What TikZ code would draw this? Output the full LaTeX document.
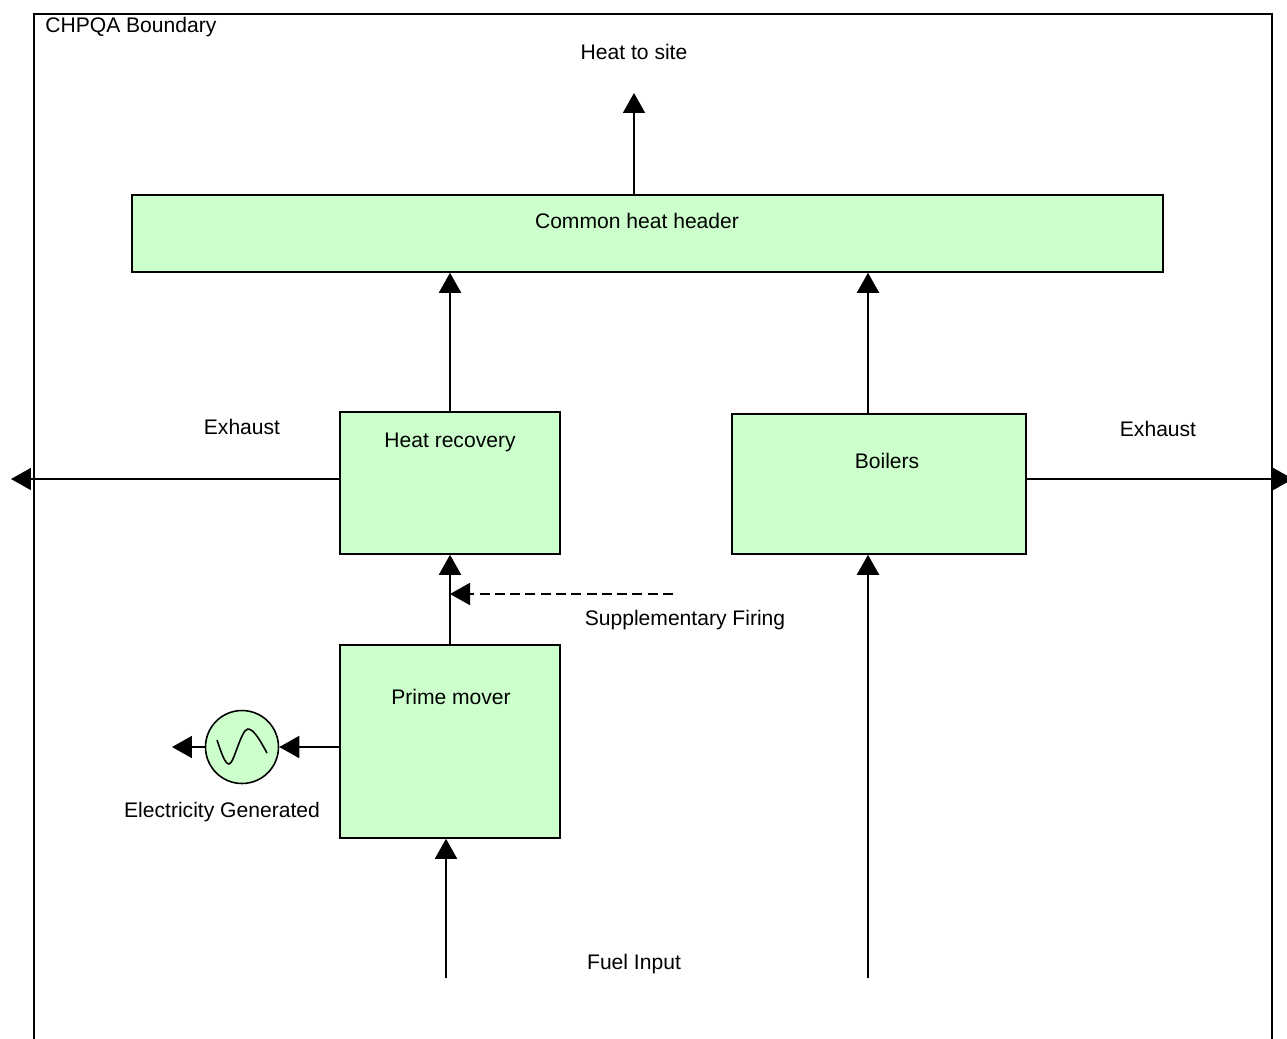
\documentclass[tikz,border=0pt]{standalone}
\usepackage{fontspec}
\setmainfont{Liberation Sans}
\usetikzlibrary{arrows.meta}
\definecolor{boxgreen}{HTML}{CCFFCC}
\tikzset{
  unit/.style={draw, line width=0.9pt, fill=boxgreen, inner sep=0pt},
  flow/.style={line width=1.1pt, -{Triangle[length=0.4cm, width=0.44cm]}},
  txt/.style={font=\fontsize{12pt}{14pt}\selectfont, inner sep=0pt, yshift=-0.03cm}
}
\begin{document}
\begin{tikzpicture}[x=0.02cm, y=-0.02cm]
\useasboundingbox (0,0) rectangle (1287,1038);
\draw[line width=1.2pt] (34,1050) -- (34,14) -- (1272,14) -- (1272,1050);
\node[txt, anchor=west] (bnd) at (45,26) {CHPQA Boundary};
\node[unit, minimum width=20.62cm, minimum height=1.54cm] (hdr) at (647.5,233.5) {};
\node[txt] (hdrtxt) at (637,219) {Common heat header};
\node[unit, minimum width=4.4cm, minimum height=2.84cm] (hr) at (450,483) {};
\node[txt] (hrtxt) at (450,441) {Heat recovery};
\node[unit, minimum width=5.88cm, minimum height=2.8cm] (boil) at (879,484) {};
\node[txt] (boiltxt) at (887,459) {Boilers};
\node[unit, minimum width=4.4cm, minimum height=3.86cm] (pm) at (450,741.5) {};
\node[txt] (pmtxt) at (451,695) {Prime mover};
\node[unit, circle, minimum size=1.46cm] (gen) at (242,747) {};
\draw[line width=0.9pt] (217,740) .. controls (221,752) and (225,764) .. (229,764) .. controls (234,764) and (241,729) .. (248,729) .. controls (254,729) and (261,742) .. (267,753);
\node[txt] (site) at (634,50) {Heat to site};
\node[txt] (exl) at (242,425) {Exhaust};
\node[txt] (exr) at (1158,427) {Exhaust};
\node[txt] (supp) at (685,619) {Supplementary Firing};
\node[txt] (elec) at (222,811) {Electricity Generated};
\node[txt] (fuel) at (634,963) {Fuel Input};
\coordinate (sitetip) at (634,93);
\coordinate (exltip) at (11,479);
\coordinate (exrtip) at (1293,479);
\coordinate (gentip) at (172,747);
\coordinate (suppend) at (673,594);
\coordinate (pmfuel) at (446,978);
\coordinate (bfuel) at (868,978);
\draw[flow] (hdr.north -| sitetip) -- (sitetip);
\draw[flow] (hr.north) -- (hr.north |- hdr.south);
\draw[flow] (boil.north -| bfuel) -- (hdr.south -| bfuel);
\draw[flow] (hr.west |- exltip) -- (exltip);
\draw[flow] (boil.east |- exrtip) -- (exrtip);
\draw[flow] (pm.north) -- (hr.south);
\draw[flow, dash pattern=on 5.7pt off 3pt] (suppend) -- (suppend -| hr.south);
\draw[flow] (pm.west |- gen) -- (gen.east);
\draw[flow] (gen.west) -- (gentip);
\draw[flow] (pmfuel) -- (pm.south -| pmfuel);
\draw[flow] (bfuel) -- (boil.south -| bfuel);
\end{tikzpicture}
\end{document}
